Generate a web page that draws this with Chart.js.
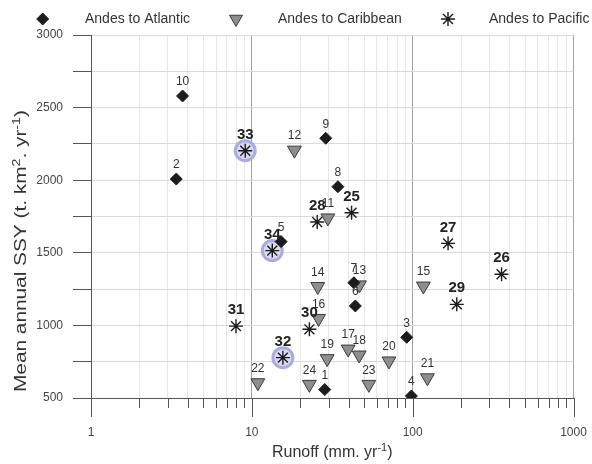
<!DOCTYPE html>
<html><head><meta charset="utf-8">
<script src="https://cdn.jsdelivr.net/npm/chart.js@4.4.1/dist/chart.umd.min.js"></script>
<style>html,body{margin:0;padding:0;background:#fff}#wrap{width:592px;height:464px;position:relative}</style>
</head><body><div id="wrap"><canvas id="c" width="592" height="464"></canvas></div>
<script>
// ---- data ----
const seriesNames = ['Andes to Atlantic', 'Andes to Caribbean', 'Andes to Pacific'];

const atlanticIds    = ['1', '2', '3', '4', '5', '6', '7', '8', '9', '10'];
const atlanticRunoff = [28.4, 3.39, 91.8, 98.2, 15.2, 44.0, 43.1, 34.3, 28.8, 3.71];
const atlanticSSY    = [558, 2008, 918, 514, 1577, 1134, 1294, 1955, 2289, 2580];

const caribbeanIds    = ['11', '12', '13', '14', '15', '16', '17', '18', '19', '20', '21', '22', '23', '24'];
const caribbeanRunoff = [29.7, 18.4, 46.7, 25.7, 116.6, 26.0, 39.7, 46.5, 29.4, 71.2, 123.5, 10.9, 53.4, 22.8];
const caribbeanSSY    = [1740, 2207, 1279, 1268, 1271, 1048, 837, 796, 771, 755, 639, 605, 594, 594];

const pacificIds    = ['25', '26', '27', '28', '29', '30', '31', '32', '33', '34'];
const pacificRunoff = [41.7, 357, 166, 25.5, 188, 22.8, 7.97, 15.6, 9.1, 13.4];
const pacificSSY    = [1776, 1352, 1565, 1712, 1145, 973, 995, 778, 2203, 1515];

const highlightedIds = ['32', '33', '34'];

const xTickLabels = [1, 10, 100, 1000];
const yTickLabels = [500, 1000, 1500, 2000, 2500, 3000];
const yStep = 250;

const xTitle = ['Runoff (mm. yr', '-1', ')'];
const yTitle = ['Mean annual SSY (t. km', '2', '. yr', '-1', ')'];

// ---- helpers ----
const FONT = "'Liberation Sans', Arial, Helvetica, sans-serif";
function pts(xs, ys) { return xs.map((x, i) => ({ x: x, y: ys[i] })); }

const datasets = [
  { label: seriesNames[0], ids: atlanticIds, data: pts(atlanticRunoff, atlanticSSY),
    pointStyle: 'rectRot', pointRadius: 6, pointHoverRadius: 6, rotation: 0,
    backgroundColor: '#1c1c1c', borderColor: '#1c1c1c', borderWidth: 1, boldLabel: false, legendRadius: 6 },
  { label: seriesNames[1], ids: caribbeanIds, data: pts(caribbeanRunoff, caribbeanSSY),
    pointStyle: 'triangle', pointRadius: 8, pointHoverRadius: 8, rotation: 180,
    backgroundColor: '#8e8e8e', borderColor: '#3a3a3a', borderWidth: 1, boldLabel: false, legendRadius: 7.5 },
  { label: seriesNames[2], ids: pacificIds, data: pts(pacificRunoff, pacificSSY),
    pointStyle: 'star', pointRadius: 7, pointHoverRadius: 7, rotation: 0,
    backgroundColor: '#1c1c1c', borderColor: '#1c1c1c', borderWidth: 1.4, boldLabel: true, legendRadius: 7 }
];

function isDecade(v) { return xTickLabels.indexOf(v) >= 0; }

function drawShape(ctx, style, r, rot, x, y, bw) {
  if (Chart.helpers && Chart.helpers.drawPoint) {
    Chart.helpers.drawPoint(ctx, { pointStyle: style, radius: r, rotation: rot, borderWidth: bw }, x, y);
  }
}

// highlight circles
const highlightPlugin = {
  id: 'highlight',
  beforeDatasetsDraw(chart) {
    const ctx = chart.ctx;
    chart.data.datasets.forEach((ds, di) => {
      const meta = chart.getDatasetMeta(di);
      ds.ids.forEach((id, i) => {
        if (highlightedIds.indexOf(id) < 0) return;
        const el = meta.data[i];
        ctx.save();
        ctx.beginPath();
        ctx.arc(el.x, el.y, 10, 0, Math.PI * 2);
        ctx.fillStyle = 'rgba(214,214,240,0.9)';
        ctx.fill();
        ctx.lineWidth = 3;
        ctx.strokeStyle = 'rgba(168,168,222,0.95)';
        ctx.stroke();
        ctx.restore();
      });
    });
  }
};

// point number labels
const labelPlugin = {
  id: 'pointLabels',
  afterDatasetsDraw(chart) {
    const ctx = chart.ctx;
    chart.data.datasets.forEach((ds, di) => {
      const meta = chart.getDatasetMeta(di);
      ctx.save();
      ctx.textAlign = 'center';
      ctx.textBaseline = 'middle';
      if (ds.boldLabel) { ctx.font = 'bold 15px ' + FONT; ctx.fillStyle = '#222'; }
      else { ctx.font = '12px ' + FONT; ctx.fillStyle = '#333'; }
      const off = ds.boldLabel ? 16 : 14;
      ds.ids.forEach((id, i) => {
        const el = meta.data[i];
        ctx.fillText(id, el.x, el.y - off);
      });
      ctx.restore();
    });
  }
};

// axis tick marks below x axis, titles, legend
const decorPlugin = {
  id: 'decor',
  afterDraw(chart) {
    const ctx = chart.ctx;
    const xs = chart.scales.x;
    const bottom = chart.chartArea.bottom;
    ctx.save();
    ctx.strokeStyle = '#555';
    ctx.lineWidth = 1;
    xs.ticks.forEach((t) => {
      const px = Math.round(xs.getPixelForValue(t.value)) + 0.5;
      const len = isDecade(t.value) ? 19 : 10;
      ctx.beginPath();
      ctx.moveTo(px, bottom);
      ctx.lineTo(px, bottom + len);
      ctx.stroke();
    });
    ctx.restore();

    // axis titles with superscripts
    function richWidth(parts, big, small) {
      let w = 0;
      parts.forEach((p, i) => {
        ctx.font = (i % 2 === 1 ? small : big) + 'px ' + FONT;
        w += ctx.measureText(p).width;
      });
      return w;
    }
    function drawRich(parts, cx, cy, big, small, rise) {
      const w = richWidth(parts, big, small);
      let x = cx - w / 2;
      ctx.textAlign = 'left';
      ctx.textBaseline = 'middle';
      parts.forEach((p, i) => {
        const sup = i % 2 === 1;
        ctx.font = (sup ? small : big) + 'px ' + FONT;
        ctx.fillText(p, x, sup ? cy - rise : cy);
        x += ctx.measureText(p).width;
      });
    }
    ctx.save();
    ctx.fillStyle = '#333';
    drawRich(xTitle, (chart.chartArea.left + chart.chartArea.right) / 2, 453, 16, 11, 5);
    ctx.translate(22, 251);
    ctx.rotate(-Math.PI / 2);
    const yw = richWidth(yTitle, 16, 11);
    ctx.scale(282 / yw, 1);
    drawRich(yTitle, 0, 0, 16, 11, 5);
    ctx.restore();

    // legend
    const legendX = [[42.7, 85], [236, 278], [448, 489]];
    const ly = 19;
    chart.data.datasets.forEach((ds, di) => {
      ctx.save();
      ctx.fillStyle = ds.backgroundColor;
      ctx.strokeStyle = ds.borderColor;
      ctx.lineWidth = ds.borderWidth;
      drawShape(ctx, ds.pointStyle, ds.legendRadius, ds.rotation, legendX[di][0], ly, ds.borderWidth);
      ctx.fillStyle = '#333';
      ctx.font = '14px ' + FONT;
      ctx.textAlign = 'left';
      ctx.textBaseline = 'middle';
      ctx.fillText(ds.label, legendX[di][1], ly);
      ctx.restore();
    });
  }
};

new Chart(document.getElementById('c'), {
  type: 'scatter',
  data: { datasets: datasets },
  options: {
    responsive: false,
    animation: false,
    devicePixelRatio: 1,
    layout: { padding: { left: 0, top: 35, right: 18.5, bottom: 0 } },
    plugins: { legend: { display: false }, tooltip: { enabled: false } },
    scales: {
      x: {
        type: 'logarithmic',
        min: xTickLabels[0],
        max: xTickLabels[xTickLabels.length - 1],
        afterBuildTicks(scale) {
          const t = [];
          for (let k = 0; k < xTickLabels.length - 1; k++) {
            for (let m = 1; m < 10; m++) t.push({ value: xTickLabels[k] * m });
          }
          t.push({ value: xTickLabels[xTickLabels.length - 1] });
          scale.ticks = t;
        },
        afterFit(scale) { scale.height = 66; scale.paddingLeft = 0; scale.paddingRight = 0; },
        ticks: {
          autoSkip: false, maxRotation: 0, padding: 27,
          color: '#444', font: { family: FONT, size: 12 },
          callback: (v) => (isDecade(v) ? String(v) : '')
        },
        grid: {
          drawTicks: false,
          color: (c) => (c.tick && isDecade(c.tick.value) ? '#a3a3a3' : '#e6e6e6'),
          lineWidth: 1
        },
        border: { color: '#555', width: 1 }
      },
      y: {
        type: 'linear',
        min: yTickLabels[0],
        max: yTickLabels[yTickLabels.length - 1],
        afterFit(scale) { scale.width = 91; scale.paddingTop = 0; scale.paddingBottom = 0; },
        ticks: {
          stepSize: yStep, autoSkip: false, padding: 10,
          color: '#444', font: { family: FONT, size: 12 },
          callback: (v) => (yTickLabels.indexOf(v) >= 0 ? String(v) : '')
        },
        grid: { color: '#dadada', lineWidth: 1, tickLength: 18, tickColor: '#555', tickWidth: 1 },
        border: { color: '#555', width: 1 }
      }
    }
  },
  plugins: [highlightPlugin, labelPlugin, decorPlugin]
});
</script>
</body></html>
